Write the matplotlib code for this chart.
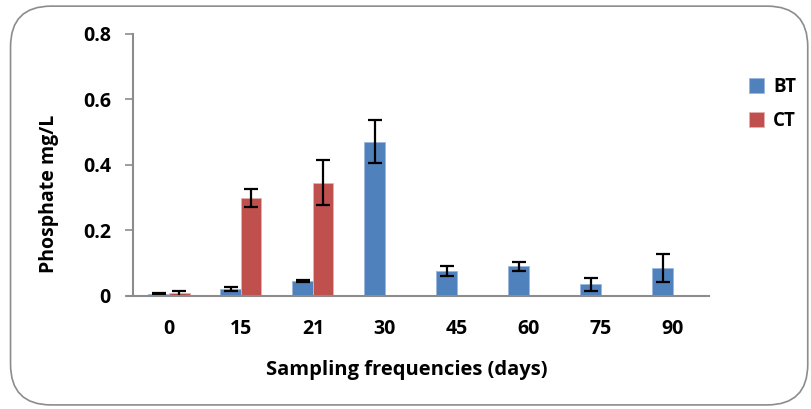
import numpy as np
import matplotlib.pyplot as plt
from matplotlib.patches import FancyBboxPatch

plt.rcParams['font.family'] = ['Open Sans', 'DejaVu Sans']
plt.rcParams['font.weight'] = 'bold'

days = ['0', '15', '21', '30', '45', '60', '75', '90']
bt = [0.005, 0.019, 0.044, 0.471, 0.075, 0.089, 0.034, 0.085]
bt_err = [0.003, 0.006, 0.003, 0.066, 0.015, 0.015, 0.019, 0.043]
ct = [0.007, 0.299, 0.345, 0, 0, 0, 0, 0]
ct_err = [0.007, 0.028, 0.069, 0, 0, 0, 0, 0]

x = np.arange(len(days))
w = 0.285

fig = plt.figure(figsize=(8.11, 4.09), dpi=100)
ax = fig.add_axes([0.164, 0.2775, 0.710, 0.6395])

# outer rounded frame
frame = FancyBboxPatch((0.013, 0.01), 0.983, 0.975, boxstyle='round,pad=0,rounding_size=0.05',
                       transform=fig.transFigure, fill=False, edgecolor='#8c8c8c', linewidth=1.2,
                       mutation_aspect=811 / 409)
fig.patches.append(frame)

ax.bar(x - w / 2, bt, w, color='#4f81bd', edgecolor='#9bb7dc', linewidth=0.6, label='BT')
ax.bar(x + w / 2, ct, w, color='#c0504d', edgecolor='#e6b0ae', linewidth=0.6, label='CT')

ax.errorbar(x - w / 2, bt, yerr=bt_err, fmt='none', ecolor='black', elinewidth=1.6, capsize=5, capthick=1.6)
ct_idx = [i for i in range(len(ct)) if ct[i] > 0]
ax.errorbar(x[ct_idx] + w / 2, [ct[i] for i in ct_idx], yerr=[ct_err[i] for i in ct_idx],
            fmt='none', ecolor='black', elinewidth=1.6, capsize=5, capthick=1.6)

ax.set_xlim(-0.5, len(days) - 0.5)
ax.set_ylim(0, 0.8)
ax.set_yticks([0, 0.2, 0.4, 0.6, 0.8])
ax.set_yticklabels(['0', '0.2', '0.4', '0.6', '0.8'])
ax.set_xticks(x)
ax.set_xticklabels(days)

for s in ['top', 'right']:
    ax.spines[s].set_visible(False)
for s in ['left', 'bottom']:
    ax.spines[s].set_color('#8c8c8c')
    ax.spines[s].set_linewidth(1.5)
ax.spines['bottom'].set_bounds(-0.5 - 0.08, len(days) - 0.5)

ax.tick_params(axis='y', colors='#8c8c8c', length=6, width=1.2, labelcolor='black', labelsize=14, pad=10)
ax.tick_params(axis='x', length=0, labelcolor='black', labelsize=14, pad=17)
for lbl in ax.get_xticklabels() + ax.get_yticklabels():
    lbl.set_fontweight('bold')

ax.set_ylabel('Phosphate mg/L', fontsize=14, fontweight='bold')
ax.yaxis.set_label_coords(-0.128, 0.39)
ax.set_xlabel('Sampling frequencies (days)', fontsize=14.5, fontweight='bold')
ax.xaxis.set_label_coords(0.476, -0.245)

leg = ax.legend(loc='upper left', bbox_to_anchor=(1.04, 0.9), frameon=False,
                prop={'size': 13.5, 'weight': 'bold'},
                handlelength=0.8, handleheight=0.8, handletextpad=0.5, labelspacing=0.75)

fig.savefig('out.png', dpi=100)
